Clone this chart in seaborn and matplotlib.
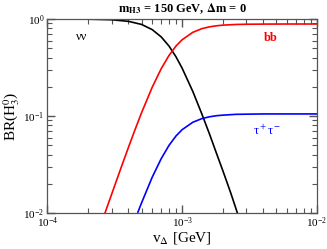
import numpy as np
import pandas as pd
import matplotlib
matplotlib.use("Agg")
import matplotlib.pyplot as plt
import seaborn as sns

# Branching ratios of H3^0 vs v_Delta
v_nunu = [1e-4, 2e-4, 3e-4, 4e-4, 5e-4, 6e-4, 7e-4, 8e-4, 9e-4, 1e-3,
          1.2e-3, 1.4e-3, 1.6e-3, 1.8e-3, 2e-3, 2.3e-3, 2.6e-3]
br_nunu = [1.0, 0.996, 0.982, 0.946, 0.879, 0.777, 0.653, 0.525, 0.408, 0.311,
           0.179, 0.105, 0.0645, 0.041, 0.0275, 0.0159, 0.0095]

v_bb = [2.6e-4, 3e-4, 3.5e-4, 4e-4, 4.5e-4, 5e-4, 6e-4, 7e-4, 8e-4, 9e-4, 1e-3,
        1.2e-3, 1.4e-3, 1.6e-3, 1.8e-3, 2e-3, 2.5e-3, 3e-3, 4e-3, 6e-3, 1e-2]
br_bb = [0.0089, 0.0156, 0.0285, 0.0476, 0.0738, 0.108, 0.198, 0.308, 0.422, 0.526, 0.611,
         0.729, 0.795, 0.831, 0.851, 0.864, 0.878, 0.883, 0.886, 0.888, 0.888]

v_tautau = [4.7e-4, 5e-4, 6e-4, 7e-4, 8e-4, 9e-4, 1e-3, 1.2e-3, 1.4e-3, 1.6e-3,
            1.8e-3, 2e-3, 2.5e-3, 3e-3, 4e-3, 6e-3, 1e-2]
br_tautau = [0.0102, 0.0127, 0.0234, 0.0364, 0.0499, 0.0622, 0.0723, 0.0862, 0.094, 0.0982,
             0.1007, 0.102, 0.104, 0.1044, 0.105, 0.105, 0.105]

df = pd.concat([
    pd.DataFrame({'v': v_nunu, 'br': br_nunu, 'canal': 'nunu'}),
    pd.DataFrame({'v': v_bb, 'br': br_bb, 'canal': 'bb'}),
    pd.DataFrame({'v': v_tautau, 'br': br_tautau, 'canal': 'tautau'}),
])

plt.rcParams.update({
    'font.family': ['Liberation Serif', 'DejaVu Serif'],
    'mathtext.fontset': 'stix',
    'axes.edgecolor': '#555555',
    'axes.linewidth': 0.9,
    'xtick.direction': 'in', 'ytick.direction': 'in',
    'xtick.top': True, 'ytick.right': True,
    'xtick.major.size': 6, 'ytick.major.size': 6,
    'xtick.minor.size': 3.5, 'ytick.minor.size': 3.5,
    'xtick.major.width': 1.0, 'ytick.major.width': 1.0,
    'xtick.minor.width': 0.8, 'ytick.minor.width': 0.8,
    'xtick.color': '#555555', 'ytick.color': '#555555',
    'xtick.labelcolor': 'black', 'ytick.labelcolor': 'black',
    'xtick.labelsize': 8, 'ytick.labelsize': 8,
    'xtick.major.pad': 2, 'ytick.major.pad': 2,
})

fig = plt.figure(figsize=(3.27, 2.49), dpi=100)
ax = fig.add_axes([0.1446, 0.1446, 0.8248, 0.7791])
ax.set_xscale('log')
ax.set_yscale('log')

colores = {'nunu': 'black', 'bb': 'red', 'tautau': 'blue'}
sns.lineplot(data=df, x='v', y='br', hue='canal', palette=colores,
             linewidth=1.2, legend=False, ax=ax, estimator=None, sort=False)

ax.set_xlim(1e-4, 1e-2)
ax.set_ylim(1e-2, 1)
ax.minorticks_on()
ax.tick_params(which='both', direction='in', top=True, right=True,
               bottom=True, left=True, color='#555555')

ax.set_xlabel(r'v$_\Delta$ [GeV]', fontsize=11, labelpad=0)
ax.set_ylabel(r'BR(H$_3^0$)', fontsize=11, labelpad=1)
ax.set_title(r'm$_{\mathbf{H3}}$ = 150 GeV, $\mathbf{\Delta}$m = 0', fontsize=9,
             fontweight='bold', pad=5)

ax.text(1.8e-4, 0.66, 'νν', fontsize=9, color='black', ha='center', va='center')
ax.text(4.5e-3, 0.63, 'bb', fontsize=9, color='red', fontweight='bold',
        ha='center', va='center')
ax.text(4.3e-3, 0.071, 'τ$^+$τ$^-$', fontsize=9, color='blue', ha='center', va='center')

fig.savefig('out.png', dpi=100)
